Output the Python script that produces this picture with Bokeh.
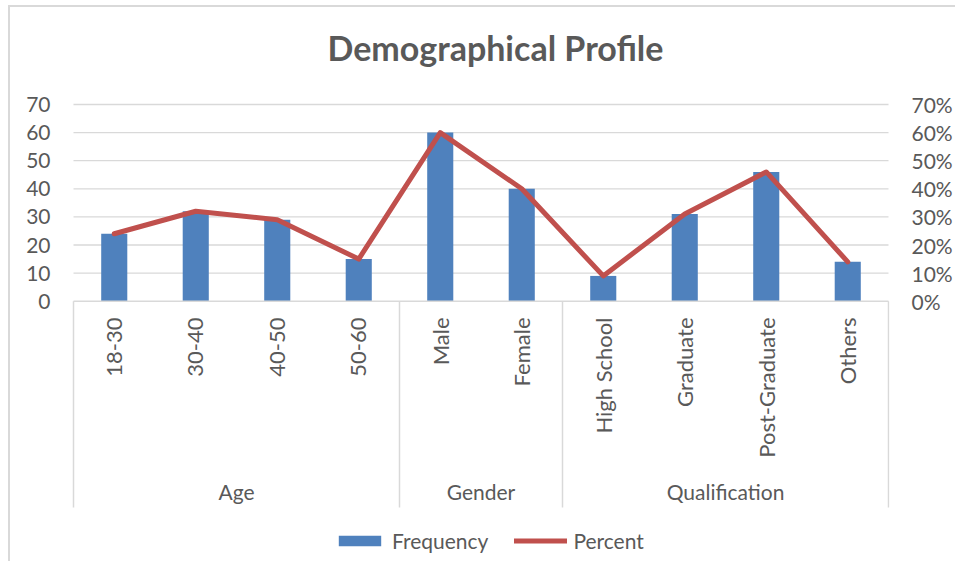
import math
from bokeh.plotting import figure
from bokeh.models import (Range1d, LinearAxis, FixedTicker, NumeralTickFormatter,
                          Legend, LegendItem)
from bokeh.core.properties import value
from bokeh.embed import file_html
from bokeh.resources import INLINE

# ---------------- data ----------------
title_text = "Demographical Profile"
groups = ["Age", "Gender", "Qualification"]
group_sizes = [4, 2, 4]
categories = ["18-30", "30-40", "40-50", "50-60", "Male", "Female",
              "High School", "Graduate", "Post-Graduate", "Others"]
frequency = [24, 32, 29, 15, 60, 40, 9, 31, 46, 14]
percent = [0.24, 0.32, 0.29, 0.15, 0.60, 0.40, 0.09, 0.31, 0.46, 0.14]
left_ticks = [0, 10, 20, 30, 40, 50, 60, 70]
right_ticks = [0.0, 0.1, 0.2, 0.3, 0.4, 0.5, 0.6, 0.7]

# ---------------- layout (figure pixels) ----------------
FRAME_L, FRAME_R, FRAME_T, FRAME_B = 71, 889, 0, 561
AREA_L, AREA_R = 73, 888
Y0_PX, YTOP_PX = 300.7, 104.0
FONT = "Lato"
GREY = "#595959"
LINE_GREY = "#d9d9d9"

n = len(categories)
xu = n / (AREA_R - AREA_L)
yu = left_ticks[-1] / (Y0_PX - YTOP_PX)
x_start = -0.5 - (AREA_L - FRAME_L) * xu
x_end = n - 0.5 + (FRAME_R - AREA_R) * xu
y_start = -(FRAME_B - Y0_PX) * yu
y_end = (Y0_PX - FRAME_T) * yu


def px_x(px):
    return -0.5 + (px - AREA_L) * xu


def px_y(py):
    return (Y0_PX - py) * yu


chart_border = {
    "background-image": "linear-gradient(#d9d9d9, #d9d9d9), linear-gradient(#d9d9d9, #d9d9d9)",
    "background-size": "2px 100%, 100% 2px",
    "background-position": "8px 5px, 8px 5px",
    "background-repeat": "no-repeat",
}

p = figure(frame_width=FRAME_R - FRAME_L, frame_height=FRAME_B - FRAME_T,
           x_range=Range1d(x_start, x_end), y_range=Range1d(y_start, y_end),
           output_backend="svg", toolbar_location=None, x_axis_location=None,
           min_border_left=FRAME_L, min_border_right=61,
           min_border_top=0, min_border_bottom=0, styles=chart_border)
p.outline_line_color = None
p.border_fill_color = None
p.background_fill_color = None
p.xgrid.visible = False
p.ygrid.visible = False
p.extra_y_ranges = {"pct": Range1d(y_start / 100.0, y_end / 100.0)}

# left axis
ax = p.yaxis[0]
ax.ticker = FixedTicker(ticks=left_ticks)
ax.axis_line_color = None
ax.major_tick_line_color = None
ax.minor_tick_line_color = None
ax.major_tick_out = 0
ax.major_tick_in = 0
ax.major_label_standoff = 21
ax.major_label_text_font = FONT
ax.major_label_text_font_size = "21px"
ax.major_label_text_color = GREY

# right axis
rax = LinearAxis(y_range_name="pct", ticker=FixedTicker(ticks=right_ticks),
                 formatter=NumeralTickFormatter(format="0%"))
rax.axis_line_color = None
rax.major_tick_line_color = None
rax.minor_tick_line_color = None
rax.major_tick_out = 0
rax.major_tick_in = 0
rax.major_label_standoff = 22
rax.major_label_text_font = FONT
rax.major_label_text_font_size = "21px"
rax.major_label_text_color = GREY
p.add_layout(rax, "right")

# gridlines
gt = left_ticks[1:]
p.segment(x0=[-0.5] * len(gt), x1=[n - 0.5] * len(gt), y0=gt, y1=gt,
          line_color=LINE_GREY, line_width=1.3)

# bars
bars = p.vbar(x=list(range(n)), top=frequency, width=0.32, bottom=0,
              fill_color="#4f81bd", line_color=None)

# category axis line and separators
p.segment(x0=[-0.5], x1=[n - 0.5], y0=[0], y1=[0], line_color=LINE_GREY, line_width=1.5)
bounds = [-0.5]
acc = 0
for s in group_sizes:
    acc += s
    bounds.append(acc - 0.5)
p.segment(x0=bounds, x1=bounds, y0=[0] * len(bounds), y1=[px_y(507)] * len(bounds),
          line_color=LINE_GREY, line_width=1.5)

# percent line
line = p.line(x=list(range(n)), y=percent, y_range_name="pct",
              line_color="#c0504d", line_width=5, line_join="round", line_cap="round")

# category labels
p.text(x=list(range(n)), y=[px_y(317)] * n, text=categories, angle=math.pi / 2,
       text_align="right", text_baseline="middle", text_font=value(FONT),
       text_font_size="22px", text_color=GREY)

# group labels
centers = []
start = 0
for s in group_sizes:
    centers.append(start + s / 2.0 - 0.5)
    start += s
p.text(x=centers, y=[px_y(491)] * len(groups), text=groups,
       text_align="center", text_baseline="middle", text_font=value(FONT),
       text_font_size="21px", text_color=GREY)

# title
p.text(x=[px_x(495)], y=[px_y(47)], text=[title_text], text_align="center",
       text_baseline="alphabetic", text_font=value(FONT), text_font_style="bold",
       text_font_size="34px", text_color=GREY)

# legend
legend = Legend(items=[LegendItem(label="Frequency", renderers=[bars]),
                       LegendItem(label="Percent", renderers=[line])],
                location=(333 - FRAME_L, FRAME_B - 553), orientation="horizontal",
                glyph_width=53, glyph_height=13, label_standoff=6, spacing=26,
                padding=0, margin=0, border_line_color=None,
                background_fill_alpha=0, label_text_font=FONT,
                label_text_font_size="21px", label_text_color=GREY)
p.add_layout(legend, "center")

open("out.html", "w").write(file_html(p, INLINE))
